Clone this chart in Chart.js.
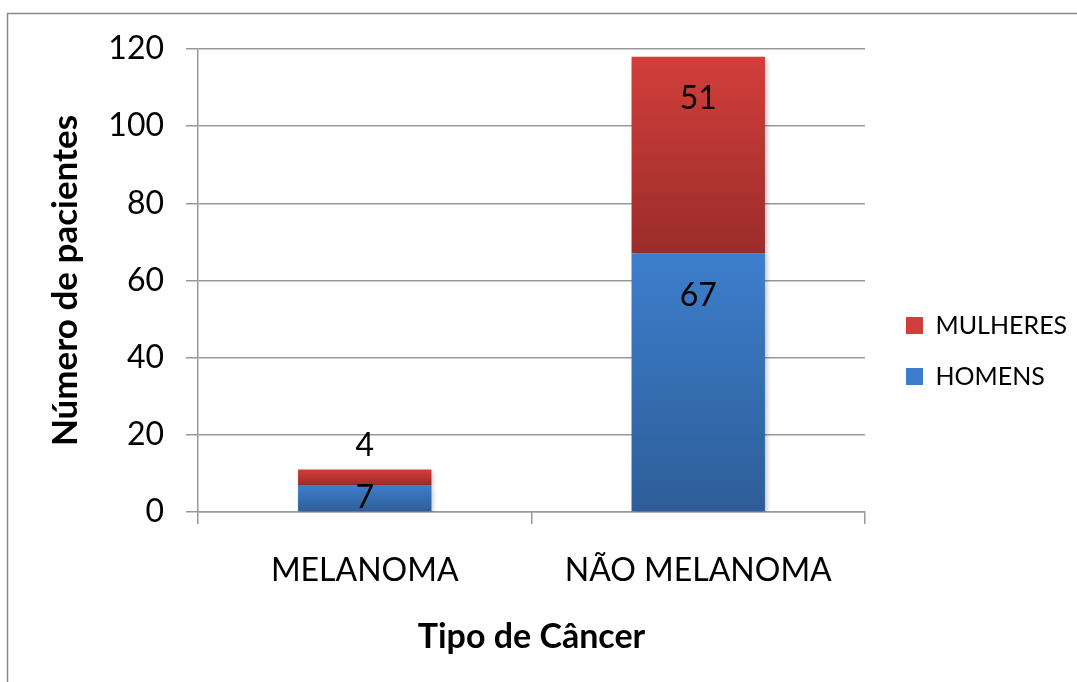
<!DOCTYPE html>
<html>
<head>
<meta charset="utf-8">
<title>Tipo de Câncer</title>
<script src="https://cdn.jsdelivr.net/npm/chart.js@4/dist/chart.umd.min.js"></script>
<style>
html, body { margin: 0; padding: 0; background: #fff; overflow: hidden; }
#wrap { width: 1077px; height: 682px; position: relative; }
</style>
</head>
<body>
<div id="wrap"><canvas id="graph"></canvas></div>
<script>
(function () {

var categories = ['MELANOMA', 'NÃO MELANOMA'];
var homens = [7, 67];
var mulheres = [4, 51];
var yTicks = [0, 20, 40, 60, 80, 100, 120];

var seriesNames = ['HOMENS', 'MULHERES'];
var seriesValues = [homens, mulheres];
// top / bottom colours of the Excel-like gradient
var gradColors = [
	['#3d7ecc', '#2d5d98'],
	['#d23e3b', '#9b2c2a']
];
var flatColors = ['#3a72b8', '#bd3936'];

var gray = '#989898';
var font = 'Lato';

function stackBase(datasetIndex, i) {
	var sum = 0;
	for (var d = 0; d < datasetIndex; d++) {
		sum += seriesValues[d][i];
	}
	return sum;
}

function barFill(context) {
	var d = context.datasetIndex;
	var chart = context.chart;
	if (context.type !== 'data' || !chart.chartArea || !chart.scales.y) {
		return flatColors[d];
	}
	var i = context.dataIndex;
	var y = chart.scales.y;
	var base = stackBase(d, i);
	var top = y.getPixelForValue(base + seriesValues[d][i]);
	var bottom = y.getPixelForValue(base);
	var g = chart.ctx.createLinearGradient(0, top, 0, bottom);
	g.addColorStop(0, gradColors[d][0]);
	g.addColorStop(1, gradColors[d][1]);
	return g;
}

function buildDatasets() {
	var list = [];
	for (var d = 0; d < seriesNames.length; d++) {
		list.push({
			label: seriesNames[d],
			data: seriesValues[d],
			backgroundColor: barFill,
			borderWidth: 0,
			barPercentage: 0.4,
			categoryPercentage: 1
		});
	}
	return list;
}

// grey frame round the picture, only left and top edges fall inside
var framePlugin = {
	id: 'frame',
	beforeDraw: function (chart) {
		var ctx = chart.ctx;
		ctx.save();
		ctx.fillStyle = '#fff';
		ctx.fillRect(0, 0, chart.width, chart.height);
		ctx.strokeStyle = '#8a8a8a';
		ctx.lineWidth = 1.5;
		ctx.strokeRect(7.5, 13.5, chart.width + 50, chart.height + 50);
		ctx.restore();
	}
};

// soft shadow under the bars
var shadowPlugin = {
	id: 'barShadow',
	beforeDatasetsDraw: function (chart) {
		var ctx = chart.ctx;
		ctx.save();
		ctx.shadowColor = 'rgba(0,0,0,0.28)';
		ctx.shadowBlur = 5;
		ctx.shadowOffsetX = 2;
		ctx.shadowOffsetY = 2;
	},
	afterDatasetsDraw: function (chart) {
		chart.ctx.restore();
	}
};

var labelPlugin = {
	id: 'valueLabels',
	afterDatasetsDraw: function (chart) {
		var ctx = chart.ctx;
		ctx.save();
		ctx.font = '32px ' + font;
		ctx.fillStyle = '#000';
		ctx.textAlign = 'center';
		ctx.textBaseline = 'middle';
		chart.data.datasets.forEach(function (ds, d) {
			var meta = chart.getDatasetMeta(d);
			meta.data.forEach(function (bar, i) {
				var h = bar.base - bar.y;
				var ty;
				if (h > 100) {
					ty = bar.y + 42;
				} else if (d === 0) {
					ty = (bar.y + bar.base) / 2;
				} else {
					ty = bar.y - 24;
				}
				ctx.fillText(String(ds.data[i]), bar.x, ty);
			});
		});
		ctx.restore();
	}
};

function drawGraph() {
	var context = document.getElementById('graph');
	new Chart(context, {
		type: 'bar',
		data: {
			labels: categories,
			datasets: buildDatasets()
		},
		plugins: [framePlugin, shadowPlugin, labelPlugin],
		options: {
			responsive: true,
			maintainAspectRatio: false,
			animation: false,
			events: [],
			layout: { padding: { top: 49, right: 0, bottom: 29, left: 0 } },
			plugins: {
				tooltip: { enabled: false },
				legend: {
					position: 'right',
					reverse: true,
					maxWidth: 197,
					labels: {
						boxWidth: 17,
						boxHeight: 17,
						padding: 26,
						color: '#000',
						font: { family: font, size: 25 }
					}
				}
			},
			scales: {
				x: {
					stacked: true,
					afterFit: function (scale) { scale.height = 141; },
					grid: {
						drawOnChartArea: false,
						drawTicks: true,
						tickLength: 12,
						color: gray,
						lineWidth: 1.5
					},
					border: { color: gray, width: 1.5 },
					ticks: {
						color: '#000',
						padding: 27,
						font: { family: font, size: 32 }
					},
					title: {
						display: true,
						text: 'Tipo de Câncer',
						color: '#000',
						padding: { top: 0, bottom: -4 },
						font: { family: font, size: 34, weight: 'bold' }
					}
				},
				y: {
					stacked: true,
					min: yTicks[0],
					max: yTicks[yTicks.length - 1],
					afterFit: function (scale) { scale.width = 198; },
					afterBuildTicks: function (scale) {
						scale.ticks = yTicks.map(function (v) { return { value: v }; });
					},
					grid: {
						color: gray,
						lineWidth: 1.5,
						tickLength: 12
					},
					border: { color: gray, width: 1.5 },
					ticks: {
						color: '#000',
						padding: 22,
						font: { family: font, size: 32 }
					},
					title: {
						display: true,
						text: 'Número de pacientes',
						color: '#000',
						padding: { top: 45, bottom: 0 },
						font: { family: font, size: 35, weight: 'bold' }
					}
				},
				// empty axis, only keeps a gap between plot and legend
				gap: {
					type: 'linear',
					position: 'right',
					display: true,
					afterFit: function (scale) { scale.width = 15; },
					grid: { display: false },
					border: { display: false },
					ticks: { display: false }
				}
			}
		}
	});
}

if (document.fonts && document.fonts.load) {
	Promise.all([
		document.fonts.load('32px ' + font),
		document.fonts.load('bold 34px ' + font)
	]).then(drawGraph, drawGraph);
} else {
	drawGraph();
}

}());
</script>
</body>
</html>
